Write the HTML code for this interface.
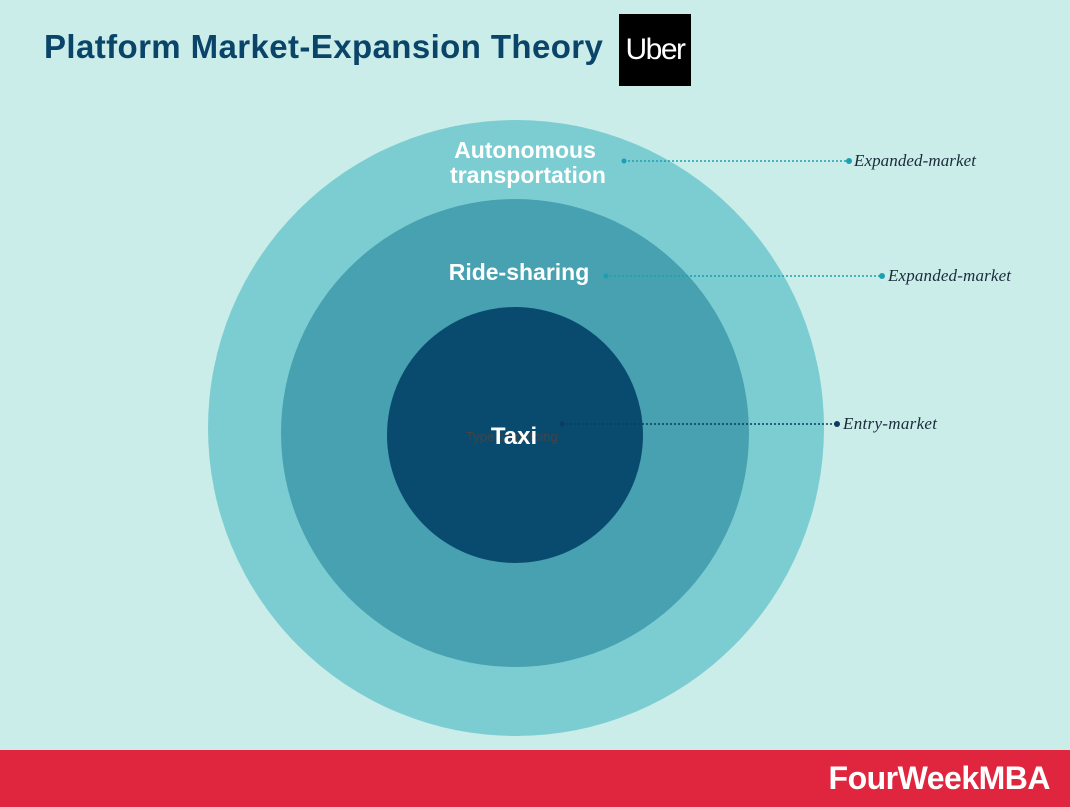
<!DOCTYPE html>
<html><head><style>
body{margin:0;width:1070px;height:807px;background:#caede9;position:relative;overflow:hidden;font-family:"Liberation Sans",sans-serif}
.t{position:absolute;left:44px;top:28px;font-size:33px;font-weight:bold;color:#0a4468;letter-spacing:0.4px}
.uber{position:absolute;left:619px;top:14px;width:72px;height:72px;background:#000;color:#fff;font-size:30px;line-height:72px;text-align:center;letter-spacing:-1.5px}
.foot{position:absolute;left:0;top:750px;width:1070px;height:57px;background:#e0253e}
.foot span{position:absolute;right:20px;top:10px;color:#fff;font-size:32px;font-weight:bold;letter-spacing:-0.5px}
</style></head><body>
<div class="t">Platform Market-Expansion Theory</div>
<div class="uber">Uber</div>
<svg width="1070" height="807" style="position:absolute;left:0;top:0">
<circle cx="516" cy="428" r="308" fill="#7bcdd2"/>
<circle cx="515" cy="433" r="234" fill="#48a1b1"/>
<circle cx="515" cy="435" r="128" fill="#094b6f"/>
<text x="466" y="441" font-size="13" fill="#444" font-family="Liberation Sans">Type something</text>
<g font-family="Liberation Sans" font-weight="bold" fill="#fff" text-anchor="middle">
<text x="525" y="158" font-size="23">Autonomous</text>
<text x="528" y="183" font-size="23">transportation</text>
<text x="519" y="280" font-size="23">Ride-sharing</text>
<text x="514" y="444" font-size="24">Taxi</text>
</g>
<g stroke-dasharray="2,2" stroke-width="1.5">
<line x1="624" y1="161" x2="849" y2="161" stroke="#1c9fb0"/>
<line x1="606" y1="276" x2="882" y2="276" stroke="#1c9fb0"/>
<line x1="562" y1="424" x2="837" y2="424" stroke="#0a3d60"/>
</g>
<circle cx="624" cy="161" r="2.5" fill="#1c9fb0"/><circle cx="849" cy="161" r="3" fill="#1c9fb0"/>
<circle cx="606" cy="276" r="2.5" fill="#1c9fb0"/><circle cx="882" cy="276" r="3" fill="#1c9fb0"/>
<circle cx="562" cy="424" r="2.5" fill="#0a3d60"/><circle cx="837" cy="424" r="3" fill="#0a3d60"/>
<g font-family="Liberation Serif" font-style="italic" font-size="17" fill="#1a2a3a">
<text x="854" y="166" textLength="122">Expanded-market</text>
<text x="888" y="281" textLength="123">Expanded-market</text>
<text x="843" y="429" textLength="94">Entry-market</text>
</g>
</svg>
<div class="foot"><span>FourWeekMBA</span></div>
</body></html>
